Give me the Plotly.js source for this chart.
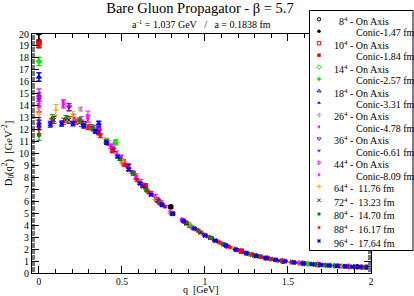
<!DOCTYPE html>
<html><head><meta charset="utf-8">
<script src="https://cdn.plot.ly/plotly-3.0.1.min.js"></script>
<style>html,body{margin:0;padding:0;background:#fff;} #chart{width:414px;height:296px;}</style>
</head><body><div id="chart"></div>
<script>
// ---------------- data ----------------
const q8On = [0, 0.794, 1.467, 1.916];
const d8On = [19.4, 5.55, 0.98, 0.52];
const e8On = [0.55, 0.12, 0.04, 0.02];
const q8Co = [0, 0.794, 1.123, 1.375, 1.467, 1.588, 1.916];
const d8Co = [19.4, 5.5, 2.35, 1.27, 1.0, 0.83, 0.52];
const e8Co = [0.55, 0.12, 0.06, 0.04, 0.04, 0.03, 0.02];

const q10On = [0, 0.641, 1.219, 1.678, 1.972];
const d10On = [19.2, 7.3, 1.82, 0.71, 0.48];
const e10On = [0.3, 0.15, 0.05, 0.03, 0.02];
const q10Co = [0, 0.641, 0.906, 1.110, 1.219, 1.282, 1.378, 1.678, 1.813];
const d10Co = [19.2, 7.2, 3.95, 2.4, 1.85, 1.56, 1.24, 0.71, 0.58];
const e10Co = [0.3, 0.15, 0.08, 0.06, 0.05, 0.04, 0.04, 0.03, 0.02];

const q14On = [0, 0.462, 0.900, 1.293, 1.621, 1.869];
const d14On = [17.7, 10.95, 4.1, 1.47, 0.77, 0.55];
const e14On = [0.35, 0.2, 0.08, 0.04, 0.03, 0.02];
const q14Co = [0, 0.462, 0.653, 0.800, 0.900, 0.923, 1.031, 1.131, 1.273, 1.306, 1.460, 1.565, 1.621, 1.760, 1.869];
const d14Co = [17.7, 10.9, 6.85, 5.0, 4.05, 3.85, 3.0, 2.3, 1.55, 1.45, 1.0, 0.84, 0.77, 0.62, 0.55];
const e14Co = [0.35, 0.2, 0.12, 0.1, 0.08, 0.08, 0.06, 0.05, 0.04, 0.04, 0.03, 0.03, 0.03, 0.02, 0.02];

const q18On = [0, 0.360, 0.709, 1.037, 1.333, 1.589, 1.796, 1.949];
const d18On = [16.4, 12.5, 6.15, 2.9, 1.37, 0.84, 0.6, 0.5];
const e18On = [0.35, 0.22, 0.12, 0.06, 0.04, 0.03, 0.02, 0.02];
const q18Co = [0, 0.360, 0.509, 0.624, 0.709, 0.720, 0.805, 0.882, 1.003, 1.037, 1.080, 1.140, 1.247, 1.333, 1.418, 1.518, 1.589, 1.694, 1.796, 1.949];
const d18Co = [16.4, 12.45, 9.3, 7.35, 6.15, 6.0, 4.95, 4.25, 3.15, 2.92, 2.62, 2.2, 1.68, 1.37, 1.13, 0.92, 0.83, 0.69, 0.6, 0.5];
const e18Co = [0.35, 0.22, 0.18, 0.14, 0.12, 0.12, 0.1, 0.08, 0.06, 0.06, 0.05, 0.05, 0.04, 0.04, 0.03, 0.03, 0.03, 0.02, 0.02, 0.02];

const q26On = [0, 0.250, 0.496, 0.736, 0.964, 1.180, 1.381, 1.563, 1.723, 1.860, 1.970];
const d26On = [15.0, 13.72, 9.7, 5.75, 3.45, 1.97, 1.2, 0.85, 0.65, 0.54, 0.48];
const e26On = [0.4, 0.15, 0.15, 0.1, 0.06, 0.04, 0.03, 0.02, 0.02, 0.02, 0.02];
const q26Co = [0, 0.353, 0.433, 0.496, 0.500, 0.560, 0.612, 0.701, 0.736, 0.748, 0.867, 0.964, 0.988, 1.100, 1.180, 1.250, 1.381, 1.450, 1.563, 1.650, 1.723, 1.860, 1.970];
const d26Co = [15.0, 12.0, 10.6, 9.7, 9.35, 8.45, 7.7, 6.45, 5.95, 5.65, 4.45, 3.5, 3.25, 2.45, 2.02, 1.65, 1.22, 1.05, 0.85, 0.73, 0.65, 0.54, 0.48];
const e26Co = [0.4, 0.2, 0.18, 0.15, 0.15, 0.12, 0.12, 0.1, 0.1, 0.1, 0.08, 0.06, 0.06, 0.05, 0.04, 0.04, 0.03, 0.03, 0.02, 0.02, 0.02, 0.02, 0.02];

const q36On = [0, 0.181, 0.360, 0.537, 0.709, 0.876, 1.037, 1.189, 1.333, 1.466, 1.589, 1.700, 1.796, 1.880, 1.949];
const d36On = [14.7, 13.9, 11.93, 9.0, 6.2, 4.3, 2.95, 1.93, 1.4, 1.02, 0.83, 0.68, 0.6, 0.53, 0.5];
const e36On = [0.35, 0.3, 0.25, 0.15, 0.1, 0.08, 0.05, 0.04, 0.03, 0.03, 0.02, 0.02, 0.02, 0.02, 0.02];
const q36Co = [0, 0.181, 0.256, 0.313, 0.360, 0.405, 0.443, 0.509, 0.537, 0.570, 0.625, 0.709, 0.720, 0.760, 0.876, 0.930, 1.037, 1.080, 1.189, 1.250, 1.333, 1.400, 1.466, 1.589, 1.700, 1.796, 1.880, 1.949];
const d36Co = [14.5, 13.85, 12.5, 12.2, 11.9, 11.1, 10.4, 9.3, 8.95, 8.4, 7.4, 6.2, 6.0, 5.55, 4.3, 3.75, 2.95, 2.6, 1.95, 1.66, 1.38, 1.15, 1.02, 0.83, 0.68, 0.6, 0.53, 0.5];
const e36Co = [0.35, 0.3, 0.25, 0.22, 0.2, 0.18, 0.18, 0.15, 0.15, 0.12, 0.12, 0.1, 0.1, 0.09, 0.07, 0.06, 0.05, 0.05, 0.04, 0.04, 0.03, 0.03, 0.03, 0.02, 0.02, 0.02, 0.02, 0.02];

const q44On = [0, 0.148, 0.295, 0.441, 0.584, 0.725, 0.863, 0.997, 1.127, 1.252, 1.371, 1.484, 1.591, 1.691, 1.783, 1.868, 1.945];
const d44On = [13.95, 14.2, 13.1, 10.5, 8.1, 5.95, 4.45, 3.2, 2.3, 1.65, 1.25, 0.98, 0.8, 0.69, 0.6, 0.54, 0.5];
const e44On = [0.45, 0.3, 0.45, 0.3, 0.2, 0.12, 0.08, 0.06, 0.05, 0.04, 0.03, 0.03, 0.02, 0.02, 0.02, 0.02, 0.02];
const q44Co = [0, 0.148, 0.209, 0.256, 0.295, 0.330, 0.362, 0.417, 0.441, 0.468, 0.511, 0.584, 0.626, 0.675, 0.725, 0.790, 0.863, 0.925, 0.997, 1.060, 1.127, 1.190, 1.252, 1.310, 1.371, 1.430, 1.484, 1.540, 1.591, 1.691, 1.783, 1.868, 1.945];
const d44Co = [13.9, 14.1, 13.0, 12.8, 12.9, 12.1, 11.8, 10.9, 10.3, 10.0, 9.15, 8.0, 7.3, 6.7, 5.95, 5.1, 4.4, 3.75, 3.2, 2.72, 2.32, 1.98, 1.68, 1.46, 1.26, 1.1, 0.99, 0.88, 0.8, 0.69, 0.6, 0.54, 0.5];
const e44Co = [0.45, 0.3, 0.3, 0.28, 0.3, 0.25, 0.25, 0.22, 0.2, 0.2, 0.18, 0.15, 0.14, 0.12, 0.1, 0.09, 0.08, 0.07, 0.06, 0.05, 0.05, 0.04, 0.04, 0.04, 0.03, 0.03, 0.03, 0.03, 0.02, 0.02, 0.02, 0.02, 0.02];

const q64 = [0, 0.102, 0.203, 0.304, 0.405, 0.505, 0.604, 0.702, 0.799, 0.895, 0.989, 1.082, 1.174, 1.263, 1.350, 1.435, 1.518, 1.599, 1.677, 1.752, 1.825, 1.895, 1.961];
const d64 = [13.3, 13.65, 13.1, 12.35, 11.05, 9.3, 7.6, 6.15, 5.05, 4.1, 3.25, 2.6, 2.05, 1.62, 1.3, 1.07, 0.92, 0.8, 0.7, 0.63, 0.57, 0.52, 0.49];
const e64 = [0.5, 0.45, 0.4, 0.3, 0.2, 0.15, 0.12, 0.1, 0.08, 0.06, 0.05, 0.04, 0.04, 0.03, 0.03, 0.03, 0.02, 0.02, 0.02, 0.02, 0.02, 0.02, 0.02];

const q72 = [0, 0.0905, 0.181, 0.271, 0.361, 0.451, 0.540, 0.628, 0.716, 0.803, 0.889, 0.974, 1.057, 1.139, 1.220, 1.299, 1.376, 1.452, 1.525, 1.596, 1.665, 1.731, 1.795, 1.856, 1.914, 1.969];
const d72 = [12.6, 12.8, 12.8, 12.45, 11.75, 10.3, 8.7, 7.25, 6.05, 4.98, 4.12, 3.38, 2.75, 2.2, 1.8, 1.47, 1.23, 1.03, 0.9, 0.8, 0.72, 0.65, 0.59, 0.55, 0.51, 0.48];
const e72 = [0.4, 0.3, 0.28, 0.22, 0.18, 0.14, 0.12, 0.1, 0.08, 0.07, 0.06, 0.05, 0.04, 0.04, 0.03, 0.03, 0.03, 0.02, 0.02, 0.02, 0.02, 0.02, 0.02, 0.02, 0.02, 0.02];

const q80 = [0, 0.081, 0.163, 0.244, 0.325, 0.406, 0.487, 0.567, 0.647, 0.726, 0.804, 0.882, 0.959, 1.035, 1.110, 1.184, 1.257, 1.328, 1.398, 1.467, 1.534, 1.599, 1.662, 1.724, 1.783, 1.841, 1.896, 1.949];
const d80 = [11.55, 12.95, 12.9, 12.75, 12.1, 11.0, 9.55, 8.3, 6.95, 5.85, 5.0, 4.25, 3.55, 2.92, 2.42, 1.98, 1.63, 1.38, 1.17, 1.01, 0.89, 0.8, 0.72, 0.65, 0.6, 0.56, 0.52, 0.49];
const e80 = [0.45, 0.3, 0.28, 0.24, 0.2, 0.16, 0.14, 0.12, 0.1, 0.08, 0.07, 0.06, 0.05, 0.04, 0.04, 0.03, 0.03, 0.03, 0.02, 0.02, 0.02, 0.02, 0.02, 0.02, 0.02, 0.02, 0.02, 0.02];

const q88 = [0, 0.074, 0.148, 0.222, 0.296, 0.370, 0.444, 0.517, 0.590, 0.662, 0.734, 0.806, 0.876, 0.946, 1.015, 1.083, 1.150, 1.216, 1.281, 1.344, 1.406, 1.467, 1.526, 1.584, 1.640, 1.695, 1.748, 1.799, 1.848, 1.896, 1.941, 1.985];
const d88 = [12.1, 12.6, 12.7, 12.65, 12.2, 11.5, 10.2, 9.05, 7.8, 6.75, 5.8, 4.97, 4.3, 3.65, 3.05, 2.58, 2.15, 1.82, 1.54, 1.32, 1.15, 1.01, 0.9, 0.81, 0.75, 0.69, 0.63, 0.59, 0.55, 0.52, 0.5, 0.47];
const e88 = [0.45, 0.3, 0.26, 0.24, 0.2, 0.18, 0.15, 0.13, 0.11, 0.1, 0.08, 0.07, 0.06, 0.05, 0.05, 0.04, 0.04, 0.03, 0.03, 0.03, 0.02, 0.02, 0.02, 0.02, 0.02, 0.02, 0.02, 0.02, 0.02, 0.02, 0.02, 0.02];

const q96 = [0, 0.068, 0.136, 0.204, 0.271, 0.339, 0.407, 0.474, 0.541, 0.608, 0.675, 0.741, 0.806, 0.871, 0.936, 1.000, 1.063, 1.126, 1.187, 1.248, 1.308, 1.367, 1.425, 1.482, 1.537, 1.592, 1.645, 1.697, 1.748, 1.797, 1.844, 1.890, 1.935, 1.978];
const d96 = [12.4, 12.45, 12.5, 12.5, 12.3, 11.85, 10.9, 9.75, 8.65, 7.5, 6.55, 5.7, 4.95, 4.35, 3.72, 3.15, 2.7, 2.3, 1.95, 1.66, 1.43, 1.25, 1.1, 0.98, 0.88, 0.8, 0.74, 0.68, 0.63, 0.59, 0.555, 0.525, 0.5, 0.47];
const e96 = [0.4, 0.25, 0.22, 0.2, 0.18, 0.16, 0.14, 0.12, 0.1, 0.09, 0.08, 0.07, 0.06, 0.05, 0.05, 0.04, 0.04, 0.03, 0.03, 0.03, 0.02, 0.02, 0.02, 0.02, 0.02, 0.02, 0.02, 0.02, 0.02, 0.02, 0.02, 0.02, 0.02, 0.02];

// legend labels (text)
const seriesLabels = [
  '\u20078<sup>4</sup> - On Axis', 'Conic-1.47 fm',
  '10<sup>4</sup> - On Axis', 'Conic-1.84 fm',
  '14<sup>4</sup> - On Axis', 'Conic-2.57 fm',
  '18<sup>4</sup> - On Axis', 'Conic-3.31 fm',
  '26<sup>4</sup> - On Axis', 'Conic-4.78 fm',
  '36<sup>4</sup> - On Axis', 'Conic-6.61 fm',
  '44<sup>4</sup> - On Axis', 'Conic-8.09 fm',
  '64<sup>4</sup> -  11.76 fm', '72<sup>4</sup> -  13.23 fm', '80<sup>4</sup> -  14.70 fm',
  '88<sup>4</sup> -  16.17 fm', '96<sup>4</sup> -  17.64 fm'
];
const seriesQ = [q8On, q8Co, q10On, q10Co, q14On, q14Co, q18On, q18Co, q26On, q26Co, q36On, q36Co, q44On, q44Co, q64, q72, q80, q88, q96];
const seriesD = [d8On, d8Co, d10On, d10Co, d14On, d14Co, d18On, d18Co, d26On, d26Co, d36On, d36Co, d44On, d44Co, d64, d72, d80, d88, d96];
const seriesE = [e8On, e8Co, e10On, e10Co, e14On, e14Co, e18On, e18Co, e26On, e26Co, e36On, e36Co, e44On, e44Co, e64, e72, e80, e88, e96];

// ---------------- styles ----------------
const seriesSymbols = ['circle-open', 'circle', 'square-open', 'square', 'diamond-open', 'diamond',
  'triangle-up-open', 'triangle-up', 'triangle-left-open', 'triangle-left', 'triangle-down-open', 'triangle-down',
  'triangle-right-open', 'triangle-right', 'cross-thin', 'x-thin', 'circle', 'star', 'x'];
const seriesColors = ['#000000', '#000000', '#ff0000', '#ff0000', '#00ee00', '#00ee00', '#0000ff', '#0000ff',
  '#bc8f8f', '#ff00ff', '#9400d3', '#9400d3', '#ff00ff', '#ff00ff', '#ffa500', '#670748', '#008b00', '#ff0000', '#0000ff'];

const FONT = 'Liberation Serif, Times New Roman, serif';
const W = 414, H = 296;
const plotL = 32, plotR = 371, plotT = 34, plotB = 273;

const traces = [];
seriesQ.forEach((q, i) => {
  const thin = /open|thin/.test(seriesSymbols[i]);
  traces.push({
    type: 'scatter', mode: 'markers', x: q, y: seriesD[i], xaxis: 'x', yaxis: 'y',
    showlegend: false, hoverinfo: 'skip', cliponaxis: false,
    marker: { symbol: seriesSymbols[i], size: 4.5, color: seriesColors[i],
              line: { color: seriesColors[i], width: thin ? 1 : 0 } },
    error_y: { type: 'data', array: seriesE[i], visible: true, color: seriesColors[i], thickness: 1, width: 2.5 }
  });
});

// legend rows (positions in pixel space of a hidden overlay subplot)
const rowY = i => (i <= 14 ? 19.3 + 11.95 * i : 186.7 + 13.6 * (i - 14));
const legendIdx = seriesLabels.map((_, i) => i);
traces.push({
  type: 'scatter', mode: 'markers', xaxis: 'x2', yaxis: 'y2', showlegend: false, hoverinfo: 'skip', cliponaxis: false,
  x: legendIdx.map(() => 319), y: legendIdx.map(rowY),
  marker: { symbol: seriesSymbols, color: seriesColors, size: 3.5,
            line: { color: seriesColors, width: seriesSymbols.map(s => /open|thin/.test(s) ? 1 : 0) } }
});

const annotations = seriesLabels.map((t, i) => ({
  xref: 'x2', yref: 'y2', x: t.startsWith('Conic') ? 354 : 332, y: rowY(i) + 1.5,
  xanchor: 'left', yanchor: 'middle', showarrow: false, text: t,
  font: { family: FONT, size: 10, color: '#000' }
}));
annotations.push({
  xref: 'x2', yref: 'y2', x: 201, y: 24, xanchor: 'center', yanchor: 'middle', showarrow: false,
  text: 'a<sup>-1</sup> = 1.037 GeV   /   a = 0.1838 fm', font: { family: FONT, size: 10, color: '#000' }
});
// x-axis title
annotations.push({
  xref: 'x2', yref: 'y2', x: 201, y: 296, xanchor: 'center', yanchor: 'bottom', showarrow: false, borderpad: 0,
  text: 'q  [GeV]', font: { family: FONT, size: 10, color: '#000' }
});

const layout = {
  width: W, height: H, margin: { l: 0, r: 0, t: 0, b: 0 },
  paper_bgcolor: '#ffffff', plot_bgcolor: 'rgba(0,0,0,0)', showlegend: false,
  font: { family: FONT, color: '#000' },
  title: { text: 'Bare Gluon Propagator - \u03b2 = 5.7', font: { family: FONT, size: 14.5, color: '#000' },
           x: 200 / W, xanchor: 'center', y: 1 - 7.5 / H, yanchor: 'middle' },
  xaxis: {
    domain: [plotL / W, plotR / W], range: [-0.042, 2.0], anchor: 'y',
    tick0: 0, dtick: 0.5, ticks: 'inside', ticklen: 7, tickwidth: 1, tickcolor: '#000',
    minor: { dtick: 0.1, ticks: 'inside', ticklen: 4, tickwidth: 1, tickcolor: '#000' },
    showline: true, linecolor: '#000', linewidth: 1, mirror: 'ticks', showgrid: false, zeroline: false,
    tickfont: { family: FONT, size: 9.5, color: '#000' }
  },
  yaxis: {
    domain: [1 - plotB / H, 1 - plotT / H], range: [0, 20], anchor: 'x',
    tick0: 0, dtick: 1, ticks: 'inside', ticklen: 7, tickwidth: 1, tickcolor: '#000',
    minor: { dtick: 0.1, ticks: 'inside', ticklen: 3, tickwidth: 1, tickcolor: '#777' },
    showline: true, linecolor: '#000', linewidth: 1, mirror: 'ticks', showgrid: false, zeroline: false,
    tickfont: { family: FONT, size: 10, color: '#000' },
    title: { text: 'D<sub>0</sub>(q<sup>2</sup>)  [GeV<sup>-2</sup>]', font: { family: FONT, size: 10.5, color: '#000' }, standoff: 4 }
  },
  xaxis2: { domain: [0, 1], range: [0, W], visible: false, anchor: 'y2', fixedrange: true },
  yaxis2: { domain: [0, 1], range: [H, 0], visible: false, anchor: 'x2', fixedrange: true },
  shapes: [{
    type: 'rect', xref: 'x2', yref: 'y2', x0: 309.5, x1: 413, y0: 10.5, y1: 250.5,
    line: { color: '#000', width: 1 }, fillcolor: '#ffffff', layer: 'below'
  }],
  annotations: annotations
};

Plotly.newPlot('chart', traces, layout, { staticPlot: true, displayModeBar: false });
</script></body></html>
